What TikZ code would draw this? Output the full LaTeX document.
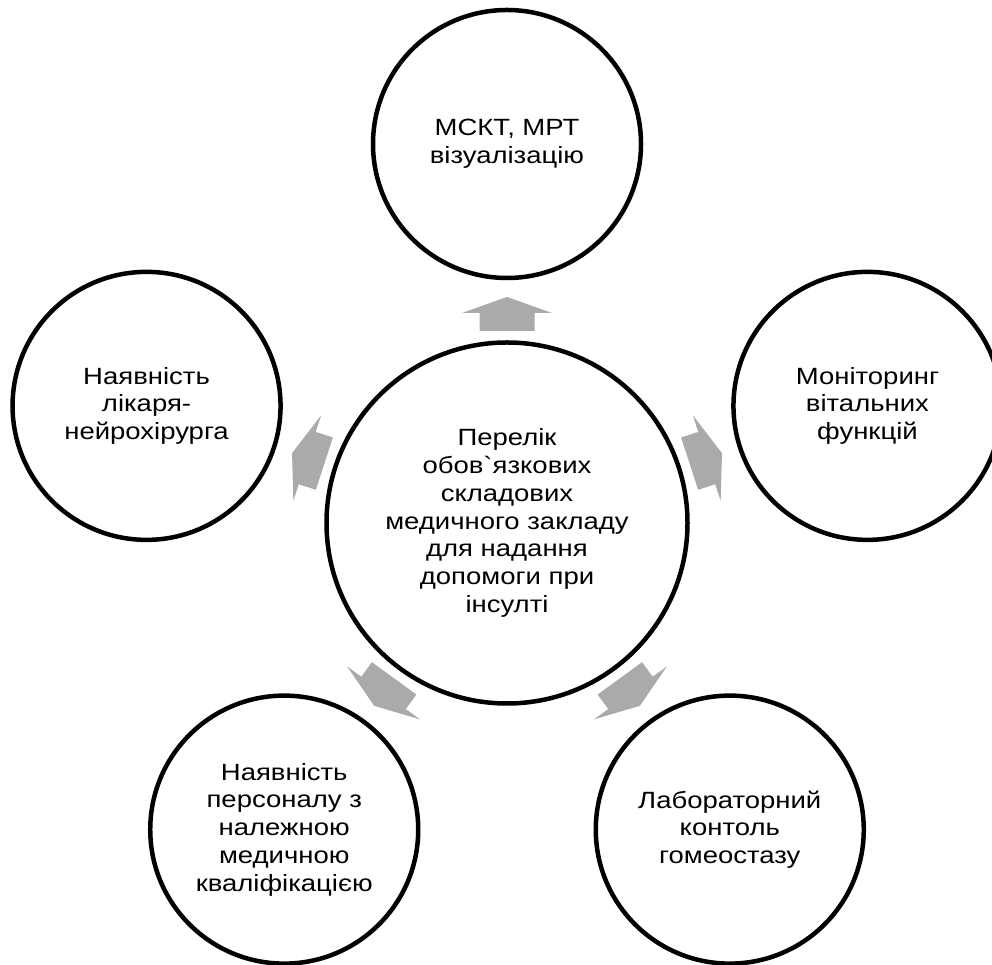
\documentclass[tikz,border=0pt]{standalone}
\usepackage{fontspec}
\setmainfont{Liberation Sans}[Ligatures=TeXOff, FakeStretch=1.17]
\usetikzlibrary{calc}
\definecolor{arrowgray}{RGB}{170,170,170}
\tikzset{
  x=1pt, y=1pt,
  ring/.style={circle, draw=black, line width=4.5pt, fill=white, inner sep=0pt,
    align=center, font=\fontsize{23.5}{27.7}\selectfont},
  hub/.style={ring, minimum size=361pt},
  leaf/.style={ring, minimum size=268pt},
  blockarrow/.style={fill=arrowgray, draw=none}
}
\begin{document}
\begin{tikzpicture}
\useasboundingbox (0,0) rectangle (992,965);
\node[hub] (c) at (507,442) {Перелік\\обов`язкових\\складових\\медичного закладу\\для надання\\допомоги при\\інсулті};
\node[leaf] (t)  at ($(c)+(90:379)$)   {МСКТ, МРТ\\візуалізацію};
\node[leaf] (r)  at ($(c)+(18:379)$)   {Моніторинг\\вітальних\\функцій};
\node[leaf] (br) at ($(c)+(-54:379)$)  {Лабораторний\\контоль\\гомеостазу};
\node[leaf] (bl) at ($(c)+(-126:379)$) {Наявність\\персоналу з\\належною\\медичною\\кваліфікацією};
\node[leaf] (l)  at ($(c)+(162:379)$)  {Наявність\\лікаря-\\нейрохірурга};
\foreach \nm/\ang in {t/90, r/18, br/-54, bl/-126, l/162} {
  \coordinate (a\nm) at ($(c)!0.5515!(\nm)$);
  \fill[blockarrow, shift={(a\nm)}, rotate=\ang-90]
    (-27.5,-17) -- (27.5,-17) -- (27.5,1) -- (45,1) -- (0,17) -- (-45,1) -- (-27.5,1) -- cycle;
}
\end{tikzpicture}
\end{document}
